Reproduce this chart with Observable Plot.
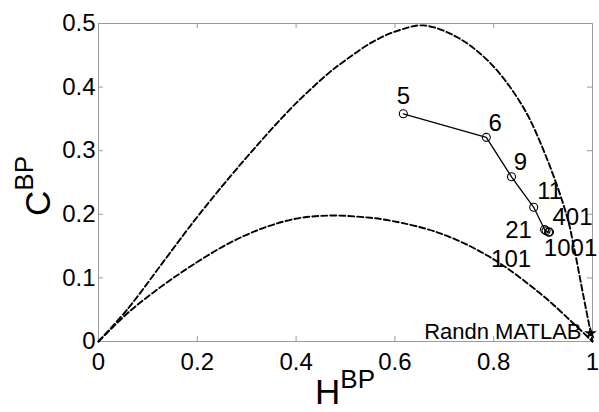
<!DOCTYPE html>
<html><head><meta charset="utf-8">
<script src="https://cdn.jsdelivr.net/npm/d3@7"></script>
<script src="https://cdn.jsdelivr.net/npm/@observablehq/plot@0.6"></script>
<style>body{margin:0;background:#fff} svg{font-family:"Liberation Sans",Arial,sans-serif}</style>
</head><body><div id="chart"></div>
<script>
// Measured series: embedding dimension labels with (H, C) values
const labels  = ["5", "6", "9", "11", "21", "101", "401", "1001"];
const hValues = [0.617, 0.785, 0.836, 0.881, 0.903, 0.906, 0.911, 0.913];
const cValues = [0.358, 0.321, 0.259, 0.211, 0.176, 0.174, 0.172, 0.172];

// Upper bound (maximum complexity) curve
const upperH = [0, 0.061, 0.130, 0.196, 0.263, 0.332, 0.399, 0.466, 0.496, 0.557, 0.607, 0.658, 0.727, 0.794, 0.860, 0.909, 0.949, 0.962, 0.982, 1];
const upperC = [0, 0.053, 0.124, 0.192, 0.256, 0.318, 0.374, 0.422, 0.440, 0.472, 0.489, 0.497, 0.478, 0.437, 0.368, 0.285, 0.195, 0.150, 0.070, 0];

// Lower bound (minimum complexity) curve
const lowerH = [0, 0.061, 0.130, 0.196, 0.263, 0.332, 0.399, 0.466, 0.530, 0.591, 0.692, 0.794, 0.895, 0.962, 1];
const lowerC = [0, 0.046, 0.088, 0.123, 0.154, 0.178, 0.193, 0.198, 0.196, 0.190, 0.170, 0.132, 0.075, 0.028, 0];

// Reference point
const refLabels = ["Randn MATLAB"];
const refH = [0.996];
const refC = [0.013];

// Ticks
const xTicks = [0, 0.2, 0.4, 0.6, 0.8, 1];
const yTicks = [0, 0.1, 0.2, 0.3, 0.4, 0.5];

// Label placement (style, not data)
const labelOffsets = {
  "5": [0, -17], "6": [9, -14], "9": [9, -14], "11": [16, -16],
  "21": [-26, 1], "101": [-35, 28], "401": [24, -15], "1001": [21, 16]
};

const points = labels.map((l, i) => ({label: l, h: hValues[i], c: cValues[i]}));
const upper = upperH.map((h, i) => ({h, c: upperC[i]}));
const lower = lowerH.map((h, i) => ({h, c: lowerC[i]}));
const ref = refLabels.map((l, i) => ({label: l, h: refH[i], c: refC[i]}));

const W = 599, H = 412, mL = 98, mR = 7, mT = 23, mB = 71;
const innerW = W - mL - mR, innerH = H - mT - mB, tick = 5;
const axisGray = "#9a9a9a";
const fmt = d => String(d);

const chart = Plot.plot({
  width: W, height: H,
  marginLeft: mL, marginRight: mR, marginTop: mT, marginBottom: mB,
  style: {fontFamily: "Liberation Sans, Arial, sans-serif", fontSize: "24px", color: "black", background: "white"},
  x: {domain: [0, 1]},
  y: {domain: [0, 0.5]},
  marks: [
    Plot.frame({stroke: axisGray}),
    // inward tick marks on all four sides
    Plot.ruleX(xTicks, {x: d => d, insetTop: innerH - tick, stroke: axisGray}),
    Plot.ruleX(xTicks, {x: d => d, insetBottom: innerH - tick, stroke: axisGray}),
    Plot.ruleY(yTicks, {y: d => d, insetRight: innerW - tick, stroke: axisGray}),
    Plot.ruleY(yTicks, {y: d => d, insetLeft: innerW - tick, stroke: axisGray}),
    Plot.axisX(xTicks, {anchor: "bottom", tickSize: 0, tickPadding: 11, fill: "black", tickFormat: fmt, fontSize: 24, label: null}),
    Plot.axisY(yTicks, {anchor: "left", tickSize: 0, tickPadding: 3, fill: "black", tickFormat: fmt, fontSize: 24, label: null}),
    Plot.line(upper, {x: "h", y: "c", curve: "catmull-rom", stroke: "black", strokeWidth: 1.9, strokeDasharray: "6,3"}),
    Plot.line(lower, {x: "h", y: "c", curve: "catmull-rom", stroke: "black", strokeWidth: 1.9, strokeDasharray: "6,3"}),
    Plot.line(points, {x: "h", y: "c", stroke: "black", strokeWidth: 1.3}),
    Plot.dot(points, {x: "h", y: "c", r: 4, stroke: "black", fill: "none", strokeWidth: 1.1}),
    ...points.map(p => Plot.text([p], {x: "h", y: "c", text: "label", fontSize: 24, fill: "black",
      dx: labelOffsets[p.label][0], dy: labelOffsets[p.label][1]})),
    Plot.dot(ref, {x: "h", y: "c", symbol: "star", r: 4, fill: "black", stroke: "none"}),
    Plot.text(ref, {x: "h", y: "c", text: "label", textAnchor: "end", dx: -9, dy: -1, fontSize: 22, fill: "black"})
  ]
});

const svg = d3.select(chart);
const xt = svg.append("text").attr("x", 345).attr("y", 404).attr("text-anchor", "middle")
  .attr("font-size", 35).attr("fill", "black");
xt.append("tspan").text("H");
xt.append("tspan").attr("font-size", 26).attr("dy", -16).text("BP");

const yt = svg.append("text").attr("transform", "translate(50,186) rotate(-90)").attr("text-anchor", "middle")
  .attr("font-size", 35).attr("fill", "black");
yt.append("tspan").text("C");
yt.append("tspan").attr("font-size", 26).attr("dy", -17).text("BP");

document.getElementById("chart").appendChild(chart);
</script>
</body></html>
